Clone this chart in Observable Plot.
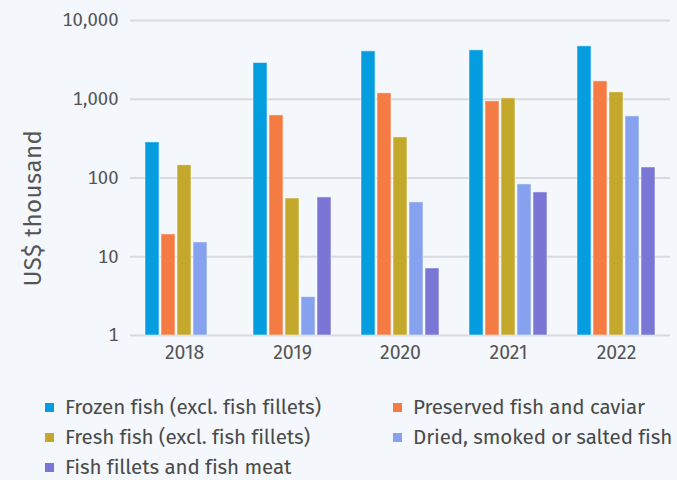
<!DOCTYPE html>
<html>
<head>
<meta charset="utf-8">
<script src="https://cdn.jsdelivr.net/npm/d3@7"></script>
<script src="https://cdn.jsdelivr.net/npm/@observablehq/plot@0.6"></script>
<style>
  html, body { margin: 0; padding: 0; background: #f4f7fc; }
  body { width: 677px; height: 480px; overflow: hidden; font-family: "Fira Sans", "Noto Sans", sans-serif; position: relative; }
  #chart svg { display: block; background: #f4f7fc; }
  #ylabel { position: absolute; left: 33px; top: 208px; transform: translate(-50%, -50%) rotate(-90deg); font-size: 24px; color: #555; white-space: nowrap; letter-spacing: 0.5px; }
  #legend { position: absolute; left: 45px; top: 392px; display: grid; grid-template-columns: 348px 284px; row-gap: 0; }
  .item { display: flex; align-items: center; font-size: 20.6px; color: #4a4a4a; height: 30px; white-space: nowrap; letter-spacing: -0.1px; }
  .sw { width: 9px; height: 9px; margin-right: 11px; flex: none; }
</style>
</head>
<body>
<div id="chart"></div>
<div id="ylabel">US$ thousand</div>
<div id="legend"></div>
<script>
const years = ["2018", "2019", "2020", "2021", "2022"];
const series = [
  "Frozen fish (excl. fish fillets)",
  "Preserved fish and caviar",
  "Fresh fish (excl. fish fillets)",
  "Dried, smoked or salted fish",
  "Fish fillets and fish meat"
];
const colors = ["#039de0", "#f47b44", "#c4a82c", "#86a2ee", "#7a76d6"];
// values in US$ thousand, per series, per year (null = no bar)
const frozen    = [283, 2885, 4060, 4180, 4700];
const preserved = [19.2, 624, 1189, 940, 1688];
const fresh     = [145, 55, 328, 1026, 1224];
const dried     = [15.2, 3.07, 49, 83, 606];
const fillets   = [null, 56.7, 7.1, 65.6, 136];
const yTicks = [1, 10, 100, 1000, 10000];

const seriesValues = [frozen, preserved, fresh, dried, fillets];
const data = [];
years.forEach((yr, i) => {
  series.forEach((s, j) => {
    const v = seriesValues[j][i];
    if (v != null) data.push({year: yr, series: s, value: v});
  });
});

const chart = Plot.plot({
  width: 677,
  height: 372,
  marginTop: 20,
  marginBottom: 37,
  marginLeft: 130,
  marginRight: 7,
  style: {background: "#f4f7fc", fontFamily: "'Fira Sans', 'Noto Sans', sans-serif", color: "#555"},
  fx: {domain: years, paddingInner: 0.26, paddingOuter: 0.13, label: null},
  x: {domain: series, paddingInner: 0.12, paddingOuter: 0, axis: null},
  y: {type: "log", domain: [1, 10000], ticks: yTicks, tickFormat: d3.format(","), label: null},
  color: {domain: series, range: colors},
  marks: [
    Plot.ruleY(yTicks, {stroke: "#d8dadf", strokeWidth: 2, insetLeft: -14, insetRight: -14}),
    Plot.barY(data, {fx: "year", x: "series", y1: 1, y2: "value", fill: "series", stroke: "#ffffff", strokeOpacity: 0.5, strokeWidth: 1}),
    Plot.axisY(yTicks, {anchor: "left", tickSize: 0, tickPadding: 26, fontSize: 18.5, fill: "#555", tickFormat: d3.format(","), label: null}),
    Plot.axisFx({anchor: "bottom", tickSize: 0, tickPadding: 10, fontSize: 19.5, fill: "#555", label: null})
  ]
});
document.getElementById("chart").appendChild(chart);

const legend = document.getElementById("legend");
series.forEach((s, i) => {
  const d = document.createElement("div");
  d.className = "item";
  d.innerHTML = `<span class="sw" style="background:${colors[i]}"></span><span>${s}</span>`;
  legend.appendChild(d);
});
</script>
</body>
</html>
